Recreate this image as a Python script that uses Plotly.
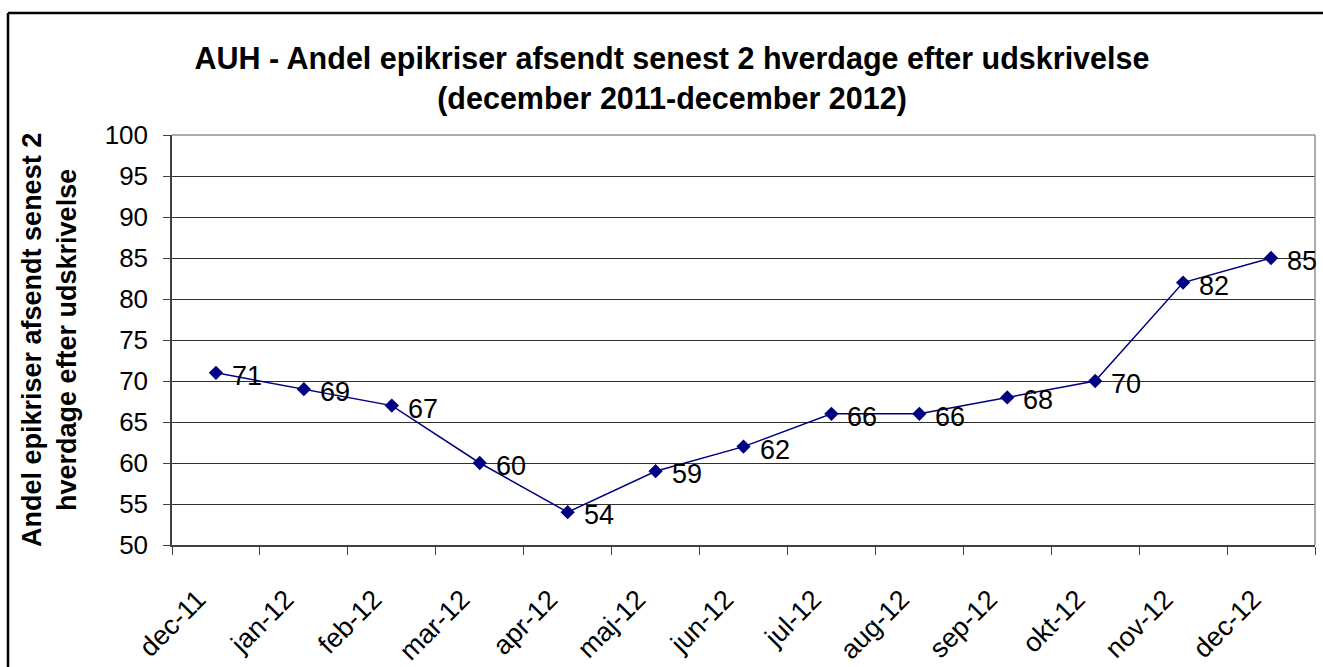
import plotly.graph_objects as go

months = ["dec-11", "jan-12", "feb-12", "mar-12", "apr-12", "maj-12", "jun-12",
          "jul-12", "aug-12", "sep-12", "okt-12", "nov-12", "dec-12"]
values = [71, 69, 67, 60, 54, 59, 62, 66, 66, 68, 70, 82, 85]
y_ticks = list(range(50, 101, 5))

title_text = ("<b>AUH - Andel epikriser afsendt senest 2 hverdage efter udskrivelse<br>"
              "(december 2011-december 2012)</b>")
y_title = "<b>Andel epikriser afsendt senest 2<br>hverdage efter udskrivelse</b>"

FONT = "Liberation Sans, Arial, sans-serif"

fig = go.Figure()
fig.add_trace(go.Scatter(
    x=months, y=values, mode="lines+markers",
    line=dict(color="#000080", width=1.5),
    marker=dict(symbol="diamond", size=11, color="#000080"),
    cliponaxis=False, showlegend=False,
))

for m, v in zip(months, values):
    fig.add_annotation(x=m, y=v, text=str(v), showarrow=False, xanchor="left",
                       yanchor="middle", xshift=14, yshift=-3,
                       font=dict(family=FONT, size=27, color="black"))

W, H = 1323, 667
ml, mr, mt, mb = 172, 8, 135, 122
pw, ph = W - ml - mr, H - mt - mb

# y-axis title as a rotated annotation
fig.add_annotation(text=y_title, xref="paper", yref="paper", x=(49 - ml) / pw, y=0.5,
                   xanchor="center", yanchor="middle", textangle=-90, showarrow=False,
                   font=dict(family=FONT, size=27, color="black"))

fig.update_layout(
    width=W, height=H,
    margin=dict(l=ml, r=mr, t=mt, b=mb, autoexpand=False),
    paper_bgcolor="white", plot_bgcolor="white",
    font=dict(family=FONT, color="black"),
    title=dict(text=title_text, x=672 / W, xanchor="center", y=1 - 69 / H, yanchor="middle",
               font=dict(size=30.5, color="black")),
    xaxis=dict(
        type="category", range=[-0.5, 12.5], tickangle=-45, tickson="boundaries",
        ticks="outside", ticklen=8, tickcolor="#404040", automargin=False,
        showline=True, linecolor="#404040", linewidth=1.5,
        showgrid=False, mirror=False, tickfont=dict(size=27),
        ticklabelstandoff=26, ticklabelshift=-18,
    ),
    yaxis=dict(
        range=[50, 100], tickvals=y_ticks, ticks="outside", ticklen=7, tickcolor="#404040",
        showline=True, linecolor="#404040", linewidth=1.5, automargin=False,
        showgrid=True, gridcolor="#303030", gridwidth=1, zeroline=False,
        tickfont=dict(size=26), ticklabelstandoff=10,
    ),
    shapes=[
        # outer chart border (left and top edges visible)
        dict(type="line", xref="paper", yref="paper",
             x0=(8 - ml) / pw, x1=(8 - ml) / pw,
             y0=(H - mb - 720) / ph, y1=(H - mb - 13) / ph,
             line=dict(color="black", width=2.5)),
        dict(type="line", xref="paper", yref="paper",
             x0=(8 - ml) / pw, x1=(1360 - ml) / pw,
             y0=(H - mb - 13) / ph, y1=(H - mb - 13) / ph,
             line=dict(color="black", width=2.5)),
        # plot area border (top/right)
        dict(type="line", xref="paper", yref="paper", x0=1, x1=1, y0=0, y1=1,
             line=dict(color="#909090", width=1.5)),
        dict(type="line", xref="paper", yref="paper", x0=0, x1=1, y0=1, y1=1,
             line=dict(color="#909090", width=1.5)),
    ],
)

fig.write_html(
    "out.html",
    config={"displayModeBar": False},
    post_script="document.body.style.margin='0';"
                "document.documentElement.style.overflow='hidden';"
                "document.body.style.overflow='hidden';",
)
